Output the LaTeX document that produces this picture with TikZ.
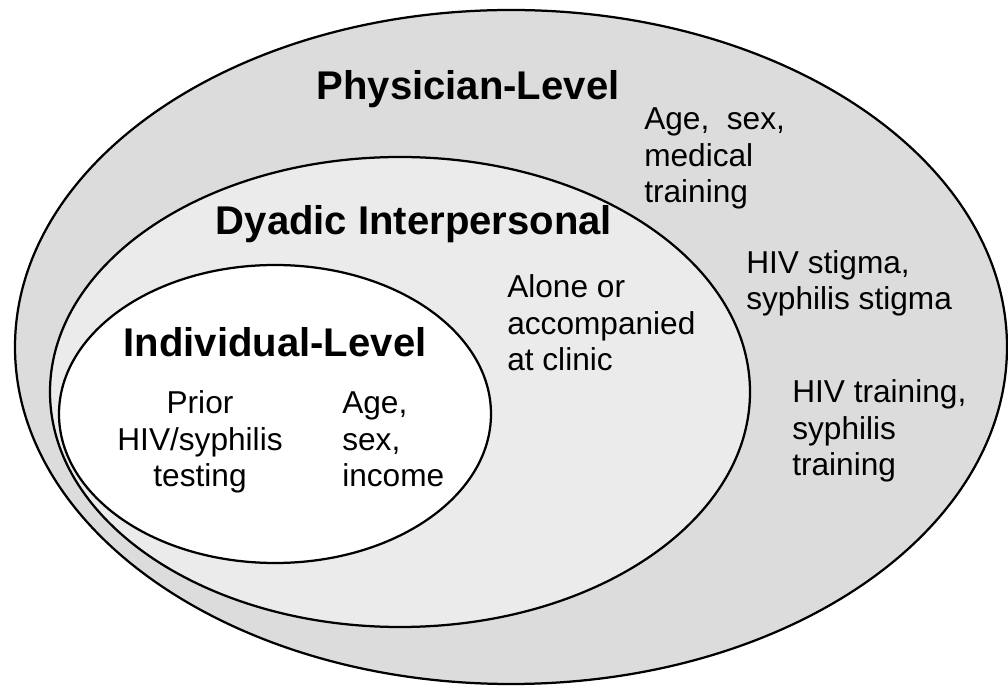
\documentclass[tikz,border=0pt]{standalone}
\usepackage{fontspec}
\setmainfont{Liberation Sans}
\usepackage{xcolor}
\usepackage{tikz}
\usetikzlibrary{positioning}

\definecolor{outergray}{RGB}{220,220,220}
\definecolor{midgray}{RGB}{235,235,235}

\begin{document}
\begin{tikzpicture}[scale=1.0,
                          ring/.style={line width=1.6pt, black},
                          levelname/.style={inner sep=0pt, anchor=base, font=\fontsize{28.5}{34}\selectfont\bfseries},
                          factor/.style={inner sep=0pt, anchor=base west, align=left, font=\fontsize{22.5}{26.3}\selectfont},
                         ]

\useasboundingbox (0,0) rectangle (25.2,17.2);

\draw[ring, fill=outergray] (12.775,8.525) ellipse (12.4 and 8.425);
\draw[ring, fill=midgray] (10.0,7.4) ellipse (8.75 and 5.875);
\draw[ring, fill=white] (6.875,6.85) ellipse (5.4 and 3.725);

\node[levelname] (physician) at (11.7,14.7) {Physician-Level};
\node[levelname] (dyadic) at (10.35,11.325) {Dyadic Interpersonal};
\node[levelname] (individual) at (6.875,8.275) {Individual-Level};

% factors, placed by the baseline of their last line
\node[factor] (physdemo) at (16.1,12.125) {Age,\ \ sex,\\medical\\training};
\node[factor] (stigma) at (18.65,9.45) {HIV stigma,\\syphilis stigma};
\node[factor] (training) at (19.8,5.3) {HIV training,\\syphilis\\training};
\node[factor] (clinic) at (12.675,7.925) {Alone or\\accompanied\\at clinic};
\node[factor, anchor=base, align=center] (testing) at (5.0,5.025) {Prior\\HIV/syphilis\\testing};
\node[factor] (patdemo) at (8.55,5.025) {Age,\\sex,\\income};

\end{tikzpicture}
\end{document}
